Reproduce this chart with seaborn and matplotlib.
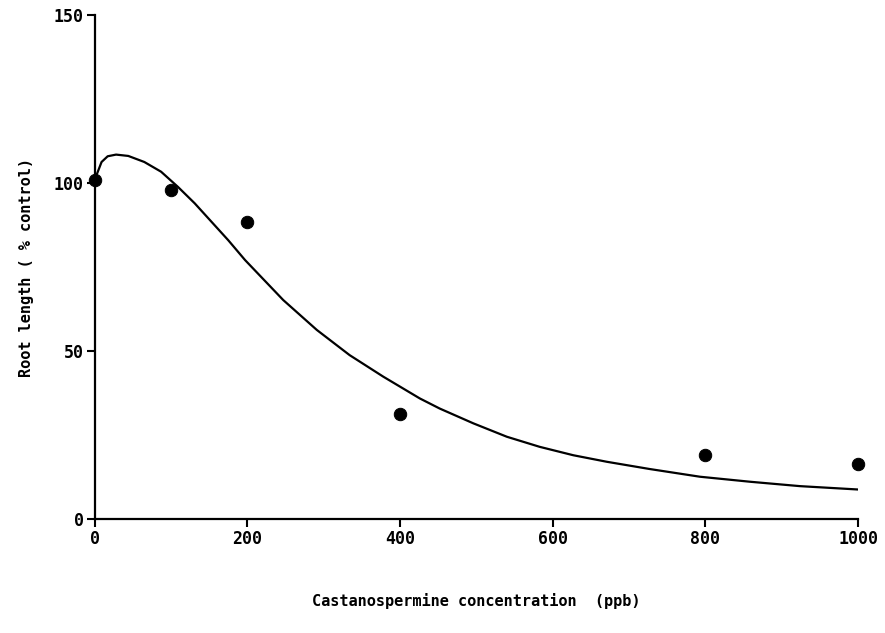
import pandas as pd
import matplotlib.pyplot as plt
import seaborn as sns

sns.set_theme(style="ticks")
plt.rcParams['font.family'] = ['DejaVu Sans Mono', 'DejaVu Sans']

# measured points
conc = [0, 100, 200, 400, 800, 1000]
root_len = [101, 98, 88.5, 31.2, 19, 16.3]

# fitted curve
curve_x = [0, 9, 17, 28, 44, 65, 87, 109, 131, 153, 175, 197, 247, 291, 334,
           378, 426, 452, 496, 540, 583, 627, 671, 727, 793, 859, 924, 1000]
curve_y = [101, 106.3, 108, 108.5, 108.1, 106.3, 103.4, 98.9, 94, 88.5, 83,
           77.1, 65.2, 56.3, 48.8, 42.4, 35.9, 32.9, 28.5, 24.5, 21.5, 19,
           17.05, 14.9, 12.6, 11.1, 9.8, 8.8]

df_pts = pd.DataFrame({'conc': conc, 'root': root_len})
df_fit = pd.DataFrame({'conc': curve_x, 'root': curve_y})

fig = plt.figure(figsize=(8.85, 6.33), dpi=100)
ax = fig.add_axes([0.107, 0.18, 0.8625, 0.796])

sns.lineplot(data=df_fit, x='conc', y='root', color='black', linewidth=1.6, ax=ax)
sns.scatterplot(data=df_pts, x='conc', y='root', color='black', s=80,
                edgecolor='black', zorder=5, clip_on=False, ax=ax)

ax.set_xlim(0, 1000)
ax.set_ylim(0, 150)
ax.set_xticks([0, 200, 400, 600, 800, 1000])
ax.set_yticks([0, 50, 100, 150])
sns.despine(ax=ax)
for s in ['left', 'bottom']:
    ax.spines[s].set_linewidth(1.6)
    ax.spines[s].set_color('black')
ax.tick_params(axis='both', colors='black', width=1.5, length=6,
               labelsize=12, pad=2)
for lab in ax.get_xticklabels() + ax.get_yticklabels():
    lab.set_fontweight('bold')

ax.set_xlabel('Castanospermine concentration  (ppb)', fontsize=11,
              fontweight='bold', labelpad=32, color='black')
ax.set_ylabel('Root length ( % control)', fontsize=11,
              fontweight='bold', labelpad=14, color='black')

plt.savefig('out.png', dpi=100)
